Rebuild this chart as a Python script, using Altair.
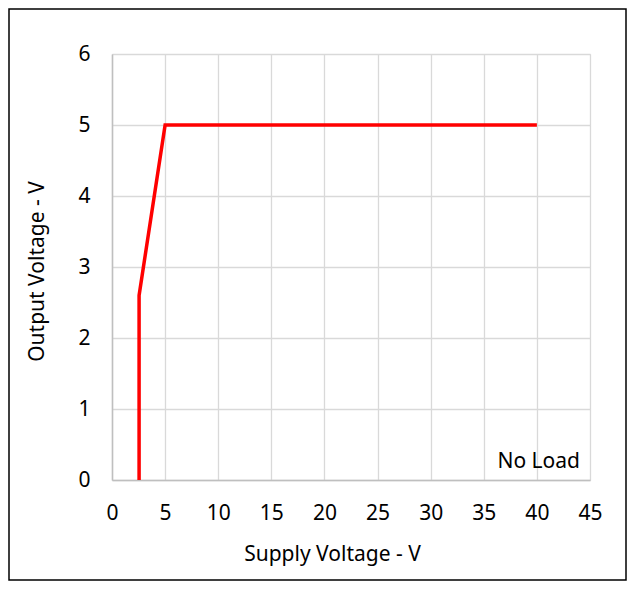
import altair as alt
import pandas as pd

supply_v = [2.55, 2.55, 5.0, 40.0]
output_v = [0.0, 2.6, 5.0, 5.0]
x_ticks = [0, 5, 10, 15, 20, 25, 30, 35, 40, 45]
y_ticks = [0, 1, 2, 3, 4, 5, 6]
note = ["No Load"]

df = pd.DataFrame({"supply": supply_v, "output": output_v, "order": list(range(len(supply_v)))})

FONT = "Noto Sans"
FS = 21
W, H = 478, 426

line = alt.Chart(df).mark_line(color="#ff0000", strokeWidth=3.5, clip=False).encode(
    x=alt.X("supply:Q", scale=alt.Scale(domain=[0, 45], nice=False),
            axis=alt.Axis(values=x_ticks, title="Supply Voltage - V", grid=True,
                          gridColor="#d9d9d9", gridWidth=1.3, domainColor="#bfbfbf", domainWidth=1.5,
                          ticks=False, labelPadding=22, labelFontSize=FS, labelFont=FONT,
                          labelFlush=False,
                          labelColor="#000", titleFont=FONT, titleFontSize=FS, titleFontWeight="normal",
                          titleColor="#000", titleX=220, titleY=74, titleBaseline="middle")),
    y=alt.Y("output:Q", scale=alt.Scale(domain=[0, 6], nice=False),
            axis=alt.Axis(values=y_ticks, title="Output Voltage - V", grid=True,
                          gridColor="#d9d9d9", gridWidth=1.3, domainColor="#bfbfbf", domainWidth=1.5,
                          ticks=False, labelPadding=22, labelFontSize=FS, labelFont=FONT,
                          labelFlush=False,
                          labelColor="#000", titleFont=FONT, titleFontSize=FS, titleFontWeight="normal",
                          titleColor="#000", titleX=-75, titleY=217, titleAngle=-90,
                          titleBaseline="middle", titleAlign="center")),
    order="order:O",
)

label = alt.Chart(pd.DataFrame({"t": note})).mark_text(
    font=FONT, fontSize=FS, align="right", baseline="middle", color="#000"
).encode(text="t:N", x=alt.value(468), y=alt.value(408))

border = alt.Chart(pd.DataFrame({"t": note})).mark_rect(
    fill=None, stroke="#000", strokeWidth=1.5, clip=False
).encode(x=alt.value(-103), x2=alt.value(514), y=alt.value(-45), y2=alt.value(526))

chart = alt.layer(border, line, label).properties(
    width=W, height=H,
    autosize=alt.AutoSizeParams(type="none"),
    padding={"left": 104, "top": 46, "right": 37, "bottom": 101},
).configure_view(stroke=None).configure(background="white")

chart.save("out.html", embed_options={"renderer": "svg", "actions": False})
